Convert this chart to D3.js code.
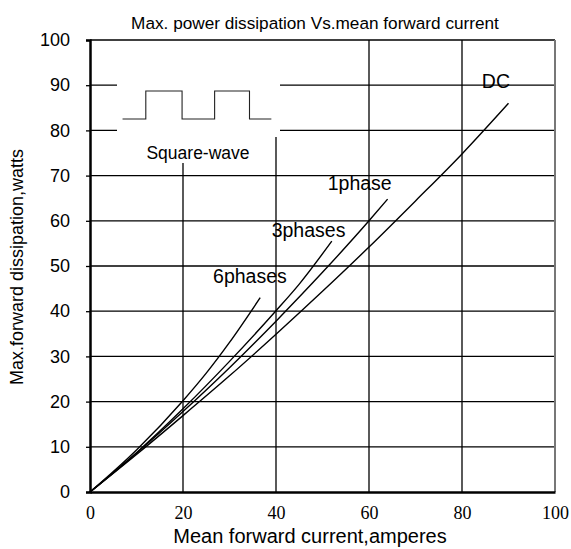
<!DOCTYPE html>
<html>
<head>
<meta charset="utf-8">
<script src="https://cdn.jsdelivr.net/npm/d3@7"></script>
<style>
html,body{margin:0;padding:0;background:#fff;}
svg{display:block;}
</style>
</head>
<body>
<svg id="chart" width="571" height="549"></svg>
<script>
// ---- data ----
const xTicks = [0, 20, 40, 60, 80, 100];
const yTicks = [0, 10, 20, 30, 40, 50, 60, 70, 80, 90, 100];
const seriesNames = ["DC", "1phase", "3phases", "6phases"];
const dcValues = [[0,0],[10,8.3],[20,16.9],[30,25.7],[40,34.9],[50,44.4],[60,54.2],[70,64.4],[80,74.8],[90,86]];
const onePhaseValues = [[0,0],[10,8.6],[20,17.8],[30,27.5],[40,37.8],[50,48.6],[60,60],[64,64.8]];
const threePhaseValues = [[0,0],[10,8.7],[20,18.4],[30,28.9],[40,40.1],[45,46],[52,55.5]];
const sixPhaseValues = [[0,0],[10,9.3],[20,20.2],[25,26.3],[30,33.1],[36.6,43]];
const squareWave = [[7,0],[12,0],[12,1],[19.8,1],[19.8,0],[26.8,0],[26.8,1],[34.3,1],[34.3,0],[39,0]]; // x in amperes, level 0/1
const labelPos = [[87.3, 89.4], [58, 66.8], [47, 56.4], [34.4, 46.2]];
const title = "Max. power dissipation  Vs.mean  forward  current";
const xTitle = "Mean forward  current,amperes";
const yTitle = "Max.forward dissipation,watts";
const insetLabel = "Square-wave";

// ---- layout ----
const svg = d3.select("#chart");
const x = d3.scaleLinear().domain([0, 100]).range([90, 555]);
const y = d3.scaleLinear().domain([0, 100]).range([492, 40]);
const sans = "'Liberation Sans', Arial, sans-serif";
const serif = "'Liberation Serif', 'Times New Roman', serif";

// grid
const grid = svg.append("g");
grid.selectAll("line.h").data(yTicks.filter(d => d > 0 && d < 100)).join("line")
  .attr("x1", x(0)).attr("x2", x(100)).attr("y1", d => y(d)).attr("y2", d => y(d))
  .attr("stroke", "#000").attr("stroke-width", 1.3);
grid.selectAll("line.v").data(xTicks.filter(d => d > 0 && d < 100)).join("line")
  .attr("y1", y(0)).attr("y2", y(100)).attr("x1", d => x(d)).attr("x2", d => x(d))
  .attr("stroke", "#000").attr("stroke-width", 1.3);

// inset masks
svg.append("rect").attr("x", 117).attr("y", y(100)).attr("width", 163).attr("height", 97).attr("fill", "#fff");
svg.append("rect").attr("x", 140).attr("y", 136).attr("width", 118).attr("height", 27).attr("fill", "#fff");

// square wave inset
const swY = d3.scaleLinear().domain([0, 1]).range([119, 91]);
svg.append("path").datum(squareWave)
  .attr("d", d3.line().x(d => x(d[0])).y(d => swY(d[1])))
  .attr("fill", "none").attr("stroke", "#222").attr("stroke-width", 1.1);
svg.append("text").attr("x", 198).attr("y", 159).attr("text-anchor", "middle")
  .attr("font-family", sans).attr("font-size", 17.5).text(insetLabel);

// frame
svg.append("line").attr("x1", x(0)).attr("x2", x(100)).attr("y1", y(100)).attr("y2", y(100))
  .attr("stroke", "#000").attr("stroke-width", 1.5);
svg.append("line").attr("x1", x(100)).attr("x2", x(100)).attr("y1", y(100)).attr("y2", y(0))
  .attr("stroke", "#777").attr("stroke-width", 2);

// axes
const yAxis = d3.axisLeft(y).tickValues(yTicks).tickSize(4).tickPadding(16);
const gy = svg.append("g").attr("transform", `translate(${x(0)},0)`).call(yAxis);
gy.select(".domain").attr("stroke", "#000").attr("stroke-width", 2.5);
gy.selectAll(".tick line").attr("stroke", "#000").attr("stroke-width", 1.3);
gy.selectAll(".tick text").attr("font-family", sans).attr("font-size", 18).attr("fill", "#000");

const xAxis = d3.axisBottom(x).tickValues(xTicks).tickSize(0).tickPadding(14);
const gx = svg.append("g").attr("transform", `translate(0,${y(0)})`).call(xAxis);
gx.select(".domain").attr("stroke", "#000").attr("stroke-width", 2.5);
gx.selectAll(".tick text").attr("font-family", serif).attr("font-size", 18).attr("fill", "#000");

// curves
const line = d3.line().x(d => x(d[0])).y(d => y(d[1])).curve(d3.curveMonotoneX);
const allSeries = [dcValues, onePhaseValues, threePhaseValues, sixPhaseValues];
svg.append("g").selectAll("path").data(allSeries).join("path")
  .attr("d", line).attr("fill", "none").attr("stroke", "#000").attr("stroke-width", 1.4);

// curve labels
svg.append("g").selectAll("text").data(seriesNames).join("text")
  .attr("x", (d, i) => x(labelPos[i][0])).attr("y", (d, i) => y(labelPos[i][1]))
  .attr("text-anchor", "middle").attr("font-family", sans).attr("font-size", 19.5)
  .text(d => d);

// titles
svg.append("text").attr("x", 315).attr("y", 29).attr("text-anchor", "middle")
  .attr("font-family", sans).attr("font-size", 17.2).text(title);
svg.append("text").attr("x", 310).attr("y", 543).attr("text-anchor", "middle")
  .attr("font-family", sans).attr("font-size", 20).text(xTitle);
svg.append("text").attr("transform", "translate(23,267) rotate(-90)").attr("text-anchor", "middle")
  .attr("font-family", sans).attr("font-size", 18).text(yTitle);
</script>
</body>
</html>
